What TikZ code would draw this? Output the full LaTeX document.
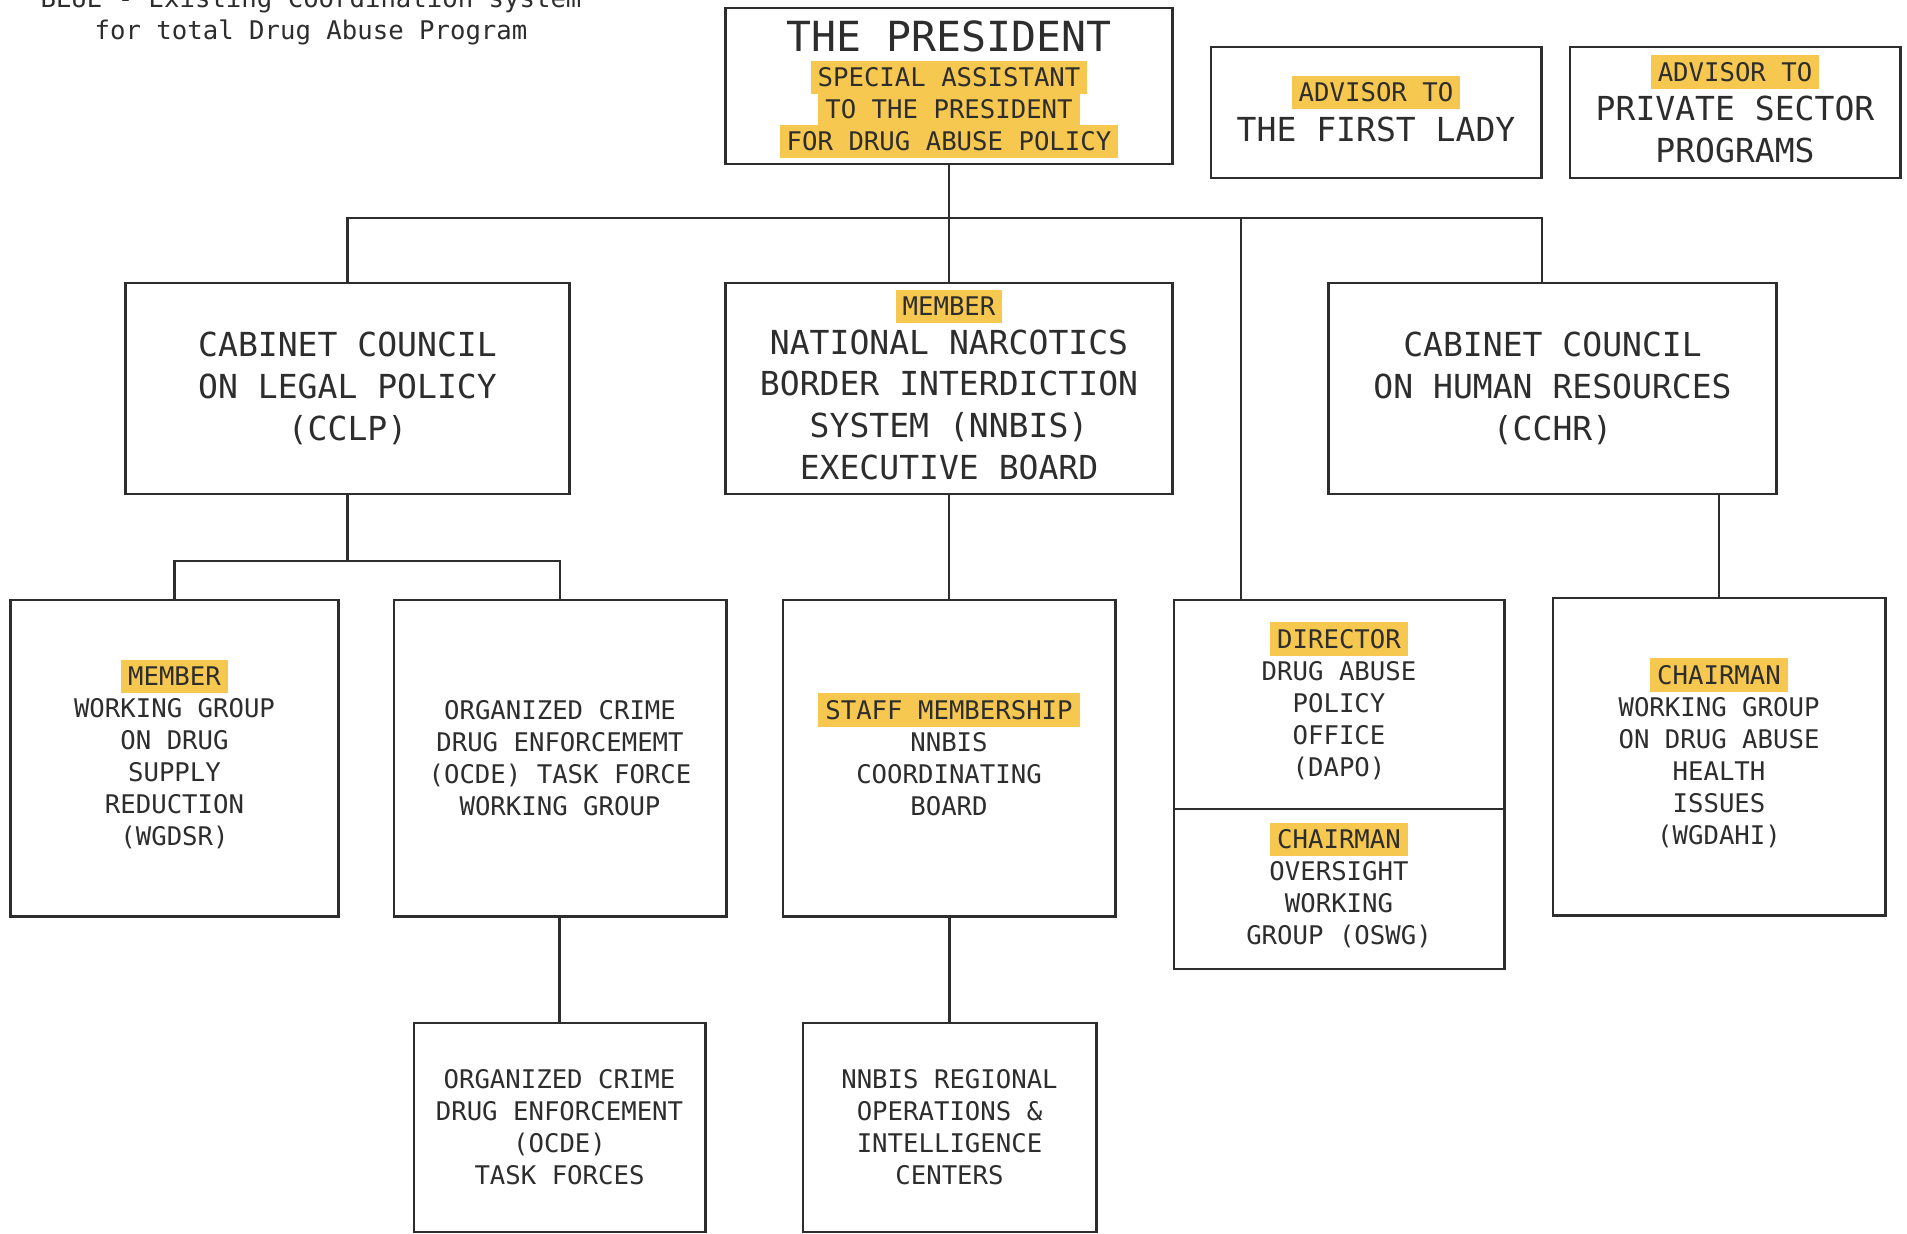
\documentclass[tikz,border=0pt]{standalone}
\usepackage{fontspec}
\setmainfont{DejaVu Sans Mono}
\usepackage{xcolor}
\usepackage{tikz}
\definecolor{marker}{RGB}{247,200,80}
\definecolor{ink}{RGB}{45,45,45}
\newcommand{\hl}[1]{{\fboxsep=2pt\smash{\colorbox{marker}{#1}}}\vphantom{#1}}
\newcommand{\notefont}{\fontsize{7.3}{9.1}\selectfont}
\newcommand{\headfont}{\fontsize{11.8}{14}\selectfont}
\tikzset{every node/.style={text=ink},
    cell/.style 2 args={draw=ink, line width=0.8pt, align=center, inner sep=0pt,
        minimum width=#1cm, minimum height=#2cm},
    smalltext/.style={font=\notefont},
    midtext/.style={font=\fontsize{9.4}{11.9}\selectfont},
    link/.style={draw=ink, line width=0.8pt}}

\begin{document}
\begin{tikzpicture}[x=0.01cm, y=-0.01cm]
            \useasboundingbox (0,0) rectangle (1907,1234);
            \node[smalltext, align=center] (legend) at (311,17)
                {BLUE - Existing Coordination system\\for total Drug Abuse Program};
            \node[cell={4.46}{1.56}, smalltext] (pres) at (949,86)
                {{\headfont THE PRESIDENT}\\[1pt]\hl{SPECIAL ASSISTANT}\\
                 \hl{TO THE PRESIDENT}\\\hl{FOR DRUG ABUSE POLICY}};
            \node[cell={3.30}{1.31}, midtext] (lady) at (1376,112.5)
                {{\notefont\hl{ADVISOR TO}}\\[-0.5pt]THE FIRST LADY};
            \node[cell={3.30}{1.31}, midtext] (priv) at (1735,112.5)
                {{\notefont\hl{ADVISOR TO}}\\[-0.8pt]PRIVATE SECTOR\\PROGRAMS};
            \node[cell={4.43}{2.11}, midtext] (cclp) at (347.5,388.5)
                {CABINET COUNCIL\\ON LEGAL POLICY\\(CCLP)};
            \node[cell={4.46}{2.11}, midtext] (nnbis) at (949,388.5)
                {{\notefont\hl{MEMBER}}\\[-1pt]NATIONAL NARCOTICS\\BORDER INTERDICTION\\
                 SYSTEM (NNBIS)\\EXECUTIVE BOARD};
            \node[cell={4.47}{2.11}, midtext] (cchr) at (1552.5,388.5)
                {CABINET COUNCIL\\ON HUMAN RESOURCES\\(CCHR)};
            \node[cell={3.27}{3.16}, smalltext] (wgdsr) at (174.5,758)
                {\hl{MEMBER}\\WORKING GROUP\\ON DRUG\\SUPPLY\\REDUCTION\\(WGDSR)};
            \node[cell={3.32}{3.16}, smalltext] (ocdewg) at (560,758)
                {ORGANIZED CRIME\\DRUG ENFORCEMEMT\\(OCDE) TASK FORCE\\WORKING GROUP};
            \node[cell={3.32}{3.16}, smalltext] (nncb) at (949,758)
                {\hl{STAFF MEMBERSHIP}\\NNBIS\\COORDINATING\\BOARD};
            \node[cell={3.30}{2.09}, smalltext] (dapo) at (1339,704.5)
                {\hl{DIRECTOR}\\DRUG ABUSE\\POLICY\\OFFICE\\(DAPO)};
            \node[cell={3.30}{1.60}, smalltext] (oswg) at (1339,889)
                {\hl{CHAIRMAN}\\OVERSIGHT\\WORKING\\GROUP (OSWG)};
            \node[cell={3.32}{3.17}, smalltext] (wgdahi) at (1719,756.5)
                {\hl{CHAIRMAN}\\WORKING GROUP\\ON DRUG ABUSE\\HEALTH\\ISSUES\\(WGDAHI)};
            \node[cell={2.91}{2.09}, smalltext] (ocdetf) at (559.5,1127.5)
                {ORGANIZED CRIME\\DRUG ENFORCEMENT\\(OCDE)\\TASK FORCES};
            \node[cell={2.93}{2.09}, smalltext] (nnrc) at (949.5,1127.5)
                {NNBIS REGIONAL\\OPERATIONS \&\\INTELLIGENCE\\CENTERS};
            \coordinate (cchrtap) at (1542,218);
            \coordinate (dapotap) at (1241,218);
            \coordinate (split) at (0,561);
            \draw[link] (pres) -- (nnbis);
            \draw[link] (cclp.north) |- (cchrtap) -- (cchrtap |- cchr.north);
            \draw[link] (dapotap) -- (dapotap |- dapo.north);
            \draw[link] (cclp.south) -- (cclp.south |- split);
            \draw[link] (wgdsr.north) |- (split -| ocdewg.north) -- (ocdewg.north);
            \draw[link] (nnbis) -- (nncb);
            \draw[link] (wgdahi.north) -- (wgdahi.north |- cchr.south);
            \draw[link] (ocdetf.north) -- (ocdetf.north |- ocdewg.south);
            \draw[link] (nnrc.north) -- (nnrc.north |- nncb.south);
        \end{tikzpicture}
\end{document}
